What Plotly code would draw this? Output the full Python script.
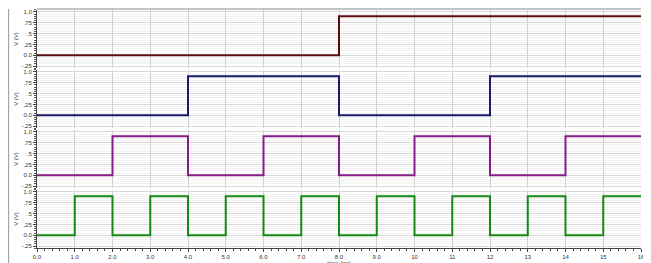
import plotly.graph_objects as go
from plotly.subplots import make_subplots

time_ns = list(range(17))
q3 = [0, 0, 0, 0, 0, 0, 0, 0, 0.9, 0.9, 0.9, 0.9, 0.9, 0.9, 0.9, 0.9, 0.9]
q2 = [0, 0, 0, 0, 0.9, 0.9, 0.9, 0.9, 0, 0, 0, 0, 0.9, 0.9, 0.9, 0.9, 0.9]
q1 = [0, 0, 0.9, 0.9, 0, 0, 0.9, 0.9, 0, 0, 0.9, 0.9, 0, 0, 0.9, 0.9, 0.9]
q0 = [0, 0.9, 0, 0.9, 0, 0.9, 0, 0.9, 0, 0.9, 0, 0.9, 0, 0.9, 0, 0.9, 0.9]

series = [q3, q2, q1, q0]
colors = ["#5c0c10", "#1a1a66", "#861c86", "#138a13"]

x_tickvals = list(range(17))
x_ticktext = ["0.0", "1.0", "2.0", "3.0", "4.0", "5.0", "6.0", "7.0", "8.0", "9.0",
              "10", "11", "12", "13", "14", "15", "16"]
y_tickvals = [-0.25, 0, 0.25, 0.5, 0.75, 1.0]
y_ticktext = ["-.25", "0.0", ".25", ".5", ".75", "1.0"]

# page body has an 8px margin, so the figure is sized/positioned to compensate
W, H = 643, 263
top_px, bot_px = 0, 241
ML, MR = 29, 10
panel_h = (bot_px - top_px) / 4

fig = make_subplots(rows=4, cols=1, vertical_spacing=0)

for i, (ys, c) in enumerate(zip(series, colors)):
    fig.add_trace(go.Scatter(x=time_ns, y=ys, mode="lines", line_shape="hv",
                             line=dict(color=c, width=2), showlegend=False, cliponaxis=False),
                  row=i + 1, col=1)

font = dict(family="Liberation Sans, Arial", size=6, color="#333")
for i in range(4):
    dom_top = 1 - (panel_h * i) / (bot_px - top_px)
    dom_bot = 1 - (panel_h * (i + 1)) / (bot_px - top_px)
    yname = "yaxis" if i == 0 else f"yaxis{i+1}"
    xname = "xaxis" if i == 0 else f"xaxis{i+1}"
    fig.layout[yname].update(
        domain=[dom_bot + 0.003, dom_top - 0.003], range=[-0.3, 1.05],
        tickvals=y_tickvals, ticktext=y_ticktext, tickfont=font, automargin=False,
        showgrid=True, gridcolor="#d8d8d8", gridwidth=1,
        minor=dict(dtick=0.05, showgrid=True, gridcolor="#f1f1f1", ticks="outside",
                   ticklen=2, tickcolor="#555"),
        ticks="outside", ticklen=3, tickcolor="#444",
        showline=True, linecolor="#444", linewidth=1, zeroline=False,
        title=dict(text="V (V)", font=dict(family="Liberation Sans, Arial", size=6, color="#333"),
                   standoff=2),
    )
    fig.layout[xname].update(
        range=[0, 16], tickmode="array", tickvals=x_tickvals, ticktext=x_ticktext,
        showgrid=True, gridcolor="#cfcfcf", gridwidth=1, zeroline=False, automargin=False,
        showline=(i == 3), linecolor="#444",
        ticks="outside" if i == 3 else "", ticklen=3, tickcolor="#444",
        minor=dict(dtick=0.2, ticks="outside" if i == 3 else "", ticklen=2, tickcolor="#444"),
        showticklabels=(i == 3), tickfont=font, ticklabeloverflow="allow",
    )

fig.layout["xaxis4"].title = dict(text="time (ns)", font=dict(family="Liberation Sans, Arial",
                                                              size=6, color="#333"), standoff=1)

fig.add_shape(type="line", xref="paper", yref="paper", x0=0, x1=1, y0=1.0, y1=1.0,
              line=dict(color="#888", width=1))
fig.add_shape(type="line", xref="paper", yref="paper", x0=-0.047, x1=-0.047, y0=-0.06, y1=1.0,
              line=dict(color="#999", width=1))

fig.update_layout(width=W, height=H, margin=dict(l=ML, r=MR, t=top_px + 1, b=H - bot_px),
                  paper_bgcolor="white", plot_bgcolor="white")

fig.write_html("out.html")
